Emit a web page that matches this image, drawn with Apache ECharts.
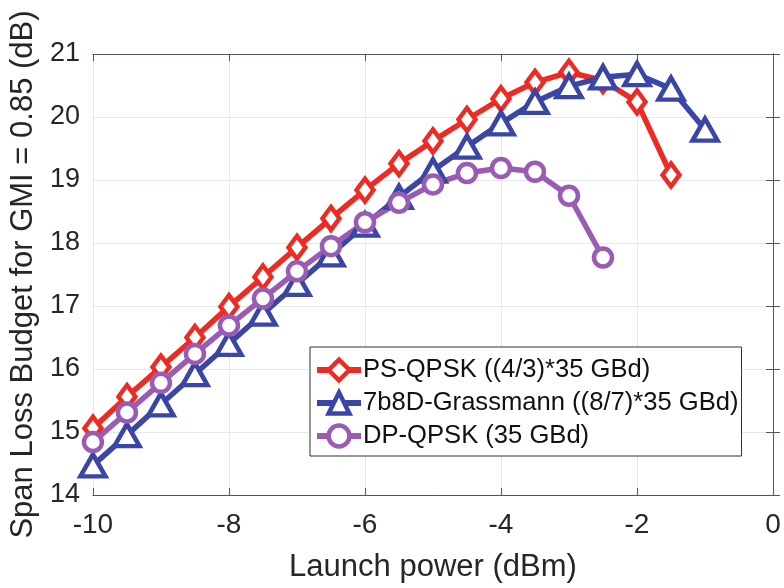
<!DOCTYPE html>
<html>
<head>
<meta charset="utf-8">
<script src="https://cdn.jsdelivr.net/npm/echarts@6/dist/echarts.min.js"></script>
<style>html,body{margin:0;padding:0;background:#fff;}#c{width:784px;height:588px;}</style>
</head>
<body>
<div id="c"></div>
<script>
const xValues = [-10, -9.5, -9, -8.5, -8, -7.5, -7, -6.5, -6, -5.5, -5, -4.5, -4, -3.5, -3, -2.5, -2, -1.5, -1];
const psQpsk = [15.06, 15.56, 16.03, 16.50, 16.99, 17.46, 17.93, 18.39, 18.84, 19.26, 19.62, 19.96, 20.29, 20.55, 20.71, 20.58, 20.24, 19.08];
const grassmann = [14.47, 14.95, 15.44, 15.92, 16.40, 16.88, 17.35, 17.82, 18.29, 18.73, 19.15, 19.53, 19.90, 20.24, 20.49, 20.63, 20.68, 20.45, 19.80];
const dpQpsk = [14.84, 15.31, 15.78, 16.24, 16.69, 17.12, 17.55, 17.95, 18.33, 18.64, 18.93, 19.11, 19.19, 19.13, 18.75, 17.77];
const seriesNames = ['PS-QPSK ((4/3)*35 GBd)', '7b8D-Grassmann ((8/7)*35 GBd)', 'DP-QPSK (35 GBd)'];
const xTicks = [-10, -8, -6, -4, -2, 0];
const yTicks = [14, 15, 16, 17, 18, 19, 20, 21];

const pair = (ys) => ys.map((y, i) => [xValues[i], y]);
const FONT = 'Liberation Sans';
const axisColor = '#4d5660';
const colors = ['#ee2a22', '#3a46a6', '#9a5bb4'];

const chart = echarts.init(document.getElementById('c'), null, {renderer: 'canvas'});
const baseX = {
  type: 'value', min: xTicks[0], max: xTicks[xTicks.length - 1], interval: 2,
  axisLine: {show: true, lineStyle: {color: axisColor, width: 1}},
  axisTick: {show: true, inside: true, length: 7, lineStyle: {color: axisColor}},
  splitLine: {show: false}
};
const baseY = {
  type: 'value', min: yTicks[0], max: yTicks[yTicks.length - 1], interval: 1,
  axisLine: {show: true, lineStyle: {color: axisColor, width: 1}},
  axisTick: {show: true, inside: true, length: 7, lineStyle: {color: axisColor}},
  splitLine: {show: false}
};
function mk(name, data, color, symbol, size) {
  return {
    name, type: 'line', data: pair(data), symbol, symbolSize: size,
    showSymbol: true,
    lineStyle: {color, width: 5.5},
    itemStyle: {color: '#ffffff', borderColor: color, borderWidth: 4.5},
    emphasis: {disabled: true}, z: 3
  };
}
chart.setOption({
  animation: false,
  backgroundColor: '#ffffff',
  grid: {left: 90, right: 11, top: 54, bottom: 86, containLabel: false},
  xAxis: [
    Object.assign({}, baseX, {
      position: 'bottom',
      splitLine: {show: true, lineStyle: {color: '#e3e8ec', width: 1}},
      axisLabel: {fontFamily: FONT, fontSize: 28, color: '#262626', margin: 16},
      name: 'Launch power (dBm)', nameLocation: 'middle', nameGap: 57,
      nameTextStyle: {fontFamily: FONT, fontSize: 31, color: '#262626'}
    }),
    Object.assign({}, baseX, {position: 'top', axisLabel: {show: false}})
  ],
  yAxis: [
    Object.assign({}, baseY, {
      position: 'left',
      splitLine: {show: true, lineStyle: {color: '#e3e8ec', width: 1}},
      axisLabel: {fontFamily: FONT, fontSize: 27, color: '#262626', margin: 13},
      name: 'Span Loss Budget for GMI = 0.85 (dB)', nameLocation: 'middle', nameGap: 51,
      nameTextStyle: {fontFamily: FONT, fontSize: 31, color: '#262626'}
    }),
    Object.assign({}, baseY, {position: 'right', axisLabel: {show: false}})
  ],
  legend: {
    orient: 'vertical', left: 310, top: 347,
    backgroundColor: '#ffffff', borderColor: '#333333', borderWidth: 1,
    padding: [10, 3, 7, 4], itemGap: 7, itemWidth: 44, itemHeight: 26,
    textStyle: {fontFamily: FONT, fontSize: 25.6, color: '#111111', lineHeight: 26, padding: [0, 0, 0, -3]},
    data: seriesNames.map((n, i) => ({
      name: n,
      itemStyle: {color: '#ffffff', borderColor: colors[i], borderWidth: 4.5},
      lineStyle: {color: colors[i], width: 6}
    }))
  },
  series: [
    mk(seriesNames[0], psQpsk, colors[0], 'diamond', [17, 23]),
    mk(seriesNames[1], grassmann, colors[1], 'triangle', [25, 22]),
    mk(seriesNames[2], dpQpsk, colors[2], 'circle', 18)
  ]
});
</script>
</body>
</html>
